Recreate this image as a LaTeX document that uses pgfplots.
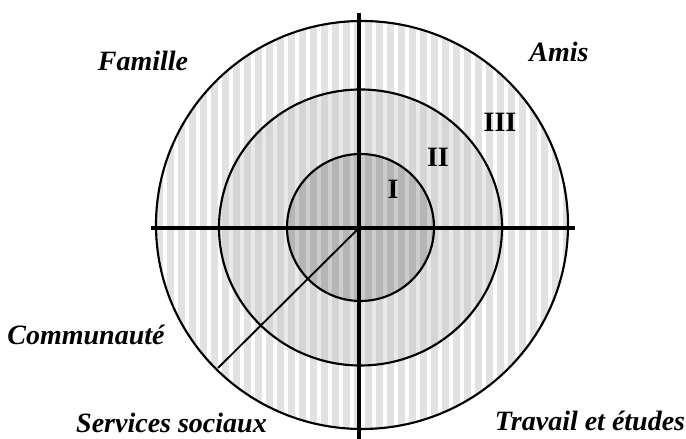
\documentclass[border=0pt]{standalone}
\usepackage{pgfplots}
\pgfplotsset{compat=1.18}
\usepackage{fontspec}
\setmainfont{Liberation Serif}
\usetikzlibrary{patterns.meta}
\definecolor{outerfill}{gray}{0.885}
\definecolor{midfill}{gray}{0.835}
\definecolor{midstripe}{gray}{0.915}
\definecolor{innerfill}{gray}{0.71}
\definecolor{innerstripe}{gray}{0.80}
\begin{document}
\begin{tikzpicture}
\useasboundingbox (0,0) rectangle (514.5pt,329.25pt);
\clip (0,0) rectangle (514.5pt,329.25pt);
\begin{axis}[at={(0,0)},anchor=south west,scale only axis,
  width=514.5pt,height=329.25pt,
  xmin=0,xmax=686,ymin=0,ymax=439,
  hide axis,clip=false]
% fills
\fill[outerfill] (axis cs:362,214) ellipse [x radius=206,y radius=204];
\fill[pattern={Lines[angle=90,distance=8.25pt,line width=2.4pt]},pattern color=white] (axis cs:362,214) ellipse [x radius=206,y radius=204];
\fill[midfill] (axis cs:360.5,211.5) ellipse [x radius=141.5,y radius=138];
\fill[pattern={Lines[angle=90,distance=8.25pt,line width=2.4pt]},pattern color=midstripe] (axis cs:360.5,211.5) ellipse [x radius=141.5,y radius=138];
\fill[innerfill] (axis cs:360.5,211.5) ellipse [x radius=73.5,y radius=73.5];
\fill[pattern={Lines[angle=90,distance=8.25pt,line width=2.4pt]},pattern color=innerstripe] (axis cs:360.5,211.5) ellipse [x radius=73.5,y radius=73.5];
% outlines
\draw[line width=1.6pt] (axis cs:362,214) ellipse [x radius=206,y radius=204];
\draw[line width=1.6pt] (axis cs:360.5,211.5) ellipse [x radius=141.5,y radius=138];
\draw[line width=1.6pt] (axis cs:360.5,211.5) ellipse [x radius=73.5,y radius=73.5];
% axes and diagonal
\addplot[black,line width=3.4pt] coordinates {(151,211) (575,211)};
\addplot[black,line width=3.6pt] coordinates {(359,426) (359,-5)};
\addplot[black,line width=1.4pt] coordinates {(359,211) (218,71)};
% labels
\begin{scope}[every node/.style={font=\fontsize{21}{25}\selectfont\bfseries\itshape,inner sep=0pt}]
\node at (axis cs:143,378) {Famille};
\node at (axis cs:559,387) {Amis};
\node at (axis cs:86,104) {Communauté};
\node at (axis cs:171.5,16) {Services sociaux};
\node at (axis cs:590,18) {Travail et études};
\end{scope}
\begin{scope}[every node/.style={font=\fontsize{21}{25}\selectfont\bfseries,inner sep=0pt}]
\node at (axis cs:500,317) {III};
\node at (axis cs:438,282) {II};
\node at (axis cs:393,250) {I};
\end{scope}
\end{axis}
\end{tikzpicture}
\end{document}
